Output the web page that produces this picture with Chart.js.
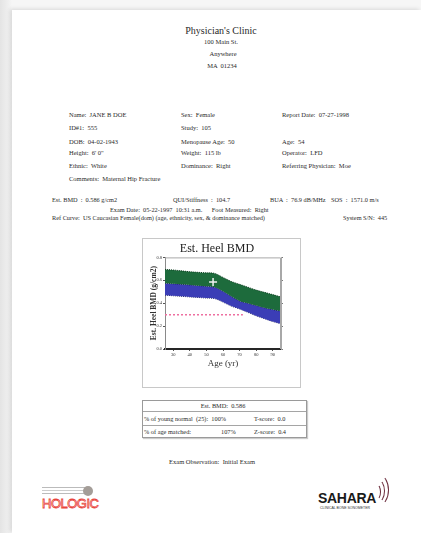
<!DOCTYPE html>
<html>
<head>
<meta charset="utf-8">
<script src="https://cdn.jsdelivr.net/npm/chart.js@4/dist/chart.umd.min.js"></script>
<style>
  html, body { margin:0; padding:0; }
  body { width:421px; height:533px; position:relative; overflow:hidden;
         background:linear-gradient(90deg,#e4e4e4 0px,#efefef 8px,#f6f6f6 12px); font-family:"Liberation Serif","DejaVu Serif",serif; color:#2a2a2a; }
  #paper { position:absolute; left:12px; top:10px; width:409px; height:523px; background:#fff;
           box-shadow:-2px -1px 4px rgba(0,0,0,0.12); }
  .t { position:absolute; white-space:pre; line-height:1; }
  .c { transform:translateX(-50%); }
  #frame { position:absolute; left:142px; top:238px; width:157px; height:148px; border:1px solid #c8c8c8; }
  #chartBox { position:absolute; left:142px; top:238px; width:158px; height:149px; }
  #tbl { position:absolute; left:142px; top:400px; width:163px; height:36px; border:1px solid #9a9a9a; box-shadow:1px 1px 1px #ccc; }
  .hl { position:absolute; left:0; right:0; height:0; border-top:1px solid #a5a5a5; }
</style>
</head>
<body>
<div id="paper"></div>

<!-- Header -->
<div class="t c" style="left:221px;top:26px;font-size:10px;">Physician's Clinic</div>
<div class="t c" style="left:221px;top:39px;font-size:6.5px;">100 Main St.</div>
<div class="t c" style="left:223px;top:51px;font-size:6.5px;">Anywhere</div>
<div class="t c" style="left:222px;top:63px;font-size:6.5px;">MA  01234</div>

<!-- Patient info -->
<div class="t" style="left:69px;top:112px;font-size:6.5px;">Name:  JANE B DOE</div>
<div class="t" style="left:181px;top:112px;font-size:6.5px;">Sex:  Female</div>
<div class="t" style="left:282px;top:112px;font-size:6.5px;">Report Date:  07-27-1998</div>
<div class="t" style="left:69px;top:125px;font-size:6.5px;">ID#1:  555</div>
<div class="t" style="left:181px;top:125px;font-size:6.5px;">Study:  105</div>
<div class="t" style="left:69px;top:139px;font-size:6.5px;">DOB:  04-02-1943</div>
<div class="t" style="left:181px;top:139px;font-size:6.5px;">Menopause Age:  50</div>
<div class="t" style="left:282px;top:139px;font-size:6.5px;">Age:  54</div>
<div class="t" style="left:69px;top:150px;font-size:6.5px;">Height:  6' 0"</div>
<div class="t" style="left:181px;top:150px;font-size:6.5px;">Weight:  115 lb</div>
<div class="t" style="left:282px;top:150px;font-size:6.5px;">Operator:  LFD</div>
<div class="t" style="left:69px;top:163px;font-size:6.5px;">Ethnic:  White</div>
<div class="t" style="left:181px;top:163px;font-size:6.5px;">Dominance:  Right</div>
<div class="t" style="left:282px;top:163px;font-size:6.5px;">Referring Physician:  Moe</div>
<div class="t" style="left:69px;top:176px;font-size:6.5px;">Comments:  Maternal Hip Fracture</div>

<!-- Results -->
<div class="t" style="left:52px;top:197px;font-size:6.3px;">Est. BMD  :  0.586 g/cm2</div>
<div class="t" style="left:173px;top:197px;font-size:6.3px;">QUI/Stiffness  :  104.7</div>
<div class="t" style="left:270px;top:197px;font-size:6.3px;">BUA  :  76.9 dB/MHz</div>
<div class="t" style="left:331px;top:197px;font-size:6.3px;">SOS  :  1571.0 m/s</div>
<div class="t" style="left:110px;top:207px;font-size:6.3px;">Exam Date:  05-22-1997  10:31 a.m.      Foot Measured:  Right</div>
<div class="t" style="left:52px;top:215px;font-size:6.3px;">Ref Curve:  US Caucasian Female(dom) (age, ethnicity, sex, &amp; dominance matched)</div>
<div class="t" style="left:343px;top:215px;font-size:6.3px;">System S/N:  445</div>

<!-- Chart -->
<div id="frame"></div>
<div id="chartBox"><canvas id="c"></canvas></div>

<!-- Table -->
<div id="tbl">
  <div class="hl" style="top:10px;"></div>
  <div class="hl" style="top:24px;"></div>
  <div class="t c" style="left:80px;top:2px;font-size:6.3px;">Est. BMD:  0.586</div>
  <div class="t" style="left:1px;top:15px;font-size:6.3px;">% of young normal  (25):  100%</div>
  <div class="t" style="left:111px;top:15px;font-size:6.3px;">T-score:  0.0</div>
  <div class="t" style="left:1px;top:28px;font-size:6.3px;">% of age matched:</div>
  <div class="t" style="left:78px;top:28px;font-size:6.3px;">107%</div>
  <div class="t" style="left:111px;top:28px;font-size:6.3px;">Z-score:  0.4</div>
</div>

<div class="t c" style="left:212px;top:459px;font-size:6.5px;">Exam Observation:  Initial Exam</div>

<!-- Logos -->
<div style="position:absolute;left:42px;top:487px;width:44px;height:1px;background:#bbb;"></div>
<div style="position:absolute;left:42px;top:490px;width:44px;height:1px;background:#ccc;"></div>
<div style="position:absolute;left:42px;top:493px;width:44px;height:1px;background:#bbb;"></div>
<div style="position:absolute;left:83px;top:486px;width:10px;height:10px;border-radius:50%;background:#a49d98;"></div>
<div class="t" style="left:42px;top:497px;font-family:'Liberation Sans',sans-serif;font-size:13px;color:#fff;-webkit-text-stroke:0.8px #e8453c;letter-spacing:-0.5px;">HOLOGIC</div>
<div class="t" style="left:318px;top:491px;font-family:'Liberation Sans',sans-serif;font-weight:bold;font-size:14px;color:#1a1a1a;letter-spacing:-0.3px;">SAHARA</div>
<div class="t" style="left:320px;top:507px;font-family:'Liberation Sans',sans-serif;font-size:3.5px;color:#333;">CLINICAL BONE SONOMETER</div>
<div style="position:absolute;left:372px;top:484px;width:8px;height:14px;border:1.3px solid #6a2a3a;border-left:none;border-top-color:transparent;border-bottom-color:transparent;border-radius:50%;"></div>
<div style="position:absolute;left:370px;top:479px;width:14px;height:22px;border:1.3px solid #6a2a3a;border-left:none;border-top-color:transparent;border-bottom-color:transparent;border-radius:50%;"></div>
<div style="position:absolute;left:368px;top:474px;width:20px;height:30px;border:1.3px solid #6a2a3a;border-left:none;border-top-color:transparent;border-bottom-color:transparent;border-radius:50%;"></div>

<script>
// ---- Data ----
const ages        = [25, 30, 40, 50, 55, 60, 65, 70, 75, 80, 85, 90, 95];
const upperSD     = [0.695, 0.690, 0.675, 0.665, 0.660, 0.625, 0.590, 0.565, 0.540, 0.515, 0.495, 0.475, 0.455];
const meanBMD     = [0.575, 0.570, 0.560, 0.548, 0.540, 0.505, 0.460, 0.420, 0.400, 0.380, 0.360, 0.345, 0.330];
const lowerSD     = [0.470, 0.465, 0.455, 0.445, 0.440, 0.410, 0.375, 0.350, 0.320, 0.290, 0.265, 0.240, 0.220];
const patientAge  = [54];
const patientBMD  = [0.586];
const thresholdAges = [25, 72];
const thresholdBMD  = [0.30, 0.30];
const xTickValues = [30, 40, 50, 60, 70, 80, 90];
const yTickValues = [0.0, 0.2, 0.4, 0.6, 0.8];

const pts = (xs, ys) => xs.map((x, i) => ({ x, y: ys[i] }));
const serif = "'Liberation Serif', serif";

const frameBorder = {
  id: 'frameBorder',
  afterDraw(chart) {
    const a = chart.chartArea, ctx = chart.ctx;
    ctx.save();
    ctx.strokeStyle = '#a8a8a8';
    ctx.lineWidth = 1;
    ctx.beginPath();
    ctx.moveTo(a.left, a.top + 0.5);
    ctx.lineTo(a.right - 0.5, a.top + 0.5);
    ctx.lineTo(a.right - 0.5, a.bottom);
    ctx.stroke();
    ctx.restore();
  }
};

new Chart(document.getElementById('c'), {
  type: 'line',
  data: {
    datasets: [
      { label: 'Patient', type: 'scatter', data: pts(patientAge, patientBMD), order: 0,
        pointStyle: 'cross', pointRadius: 4, borderColor: '#f2f2f2', borderWidth: 1.5, backgroundColor: '#f2f2f2' },
      { label: 'Threshold', data: pts(thresholdAges, thresholdBMD), order: 1,
        borderColor: '#ee6fa0', borderWidth: 1.5, borderDash: [2, 2], pointRadius: 0, fill: false },
      { label: '+1 SD', data: pts(ages, upperSD), order: 5, fill: '+1',
        backgroundColor: '#1d6b3c', borderColor: '#0d3d20', borderWidth: 1, borderDash: [1, 1], pointRadius: 0, tension: 0.3 },
      { label: 'Mean', data: pts(ages, meanBMD), order: 5, fill: '+1',
        backgroundColor: '#3b3db6', borderColor: '#15183f', borderWidth: 1, borderDash: [1, 1], pointRadius: 0, tension: 0.3 },
      { label: '-1 SD', data: pts(ages, lowerSD), order: 5, fill: false,
        borderColor: '#22265a', borderWidth: 1, borderDash: [1, 1], pointRadius: 0, tension: 0.3 }
    ]
  },
  options: {
    responsive: true, maintainAspectRatio: false, animation: false,
    layout: { padding: { left: 8, right: 16, top: 0, bottom: 18 } },
    plugins: {
      legend: { display: false }, tooltip: { enabled: false },
      title: { display: true, text: 'Est. Heel BMD', color: '#222',
               font: { family: serif, size: 12, weight: 'normal' }, padding: { top: 4, bottom: 1 } }
    },
    scales: {
      x: {
        type: 'linear', min: 25, max: 95,
        afterBuildTicks: s => { s.ticks = xTickValues.map(v => ({ value: v })); },
        afterFit: s => { s.height = 20; },
        ticks: { font: { family: serif, size: 4.5 }, color: '#333', padding: 1, maxRotation: 0 },
        grid: { display: true, drawOnChartArea: false, drawTicks: true, tickLength: 2, color: '#555' },
        border: { color: '#262626', width: 2 },
        title: { display: true, text: 'Age (yr)', font: { family: serif, size: 9 }, color: '#333', padding: 0 }
      },
      y: {
        min: 0, max: 0.8,
        afterBuildTicks: s => { s.ticks = yTickValues.map(v => ({ value: v })); },
        afterFit: s => { s.width = 15; },
        ticks: { font: { family: serif, size: 4.5 }, color: '#333', padding: 1, callback: v => v.toFixed(1) },
        grid: { display: true, drawOnChartArea: false, drawTicks: true, tickLength: 2, color: '#555' },
        border: { color: '#8a8a8a', width: 1 },
        title: { display: true, text: 'Est. Heel BMD (g/cm2)', font: { family: serif, size: 7.5, weight: 'bold' }, color: '#333', padding: 0 }
      },
      y2: {
        position: 'right', min: 0, max: 0.8,
        afterBuildTicks: s => { s.ticks = yTickValues.map(v => ({ value: v })); },
        afterFit: s => { s.width = 3; },
        ticks: { display: false },
        grid: { display: true, drawOnChartArea: false, drawTicks: true, tickLength: 2, color: '#777' },
        border: { color: '#a8a8a8', width: 1 }
      }
    }
  },
  plugins: [frameBorder]
});
</script>
</body>
</html>
